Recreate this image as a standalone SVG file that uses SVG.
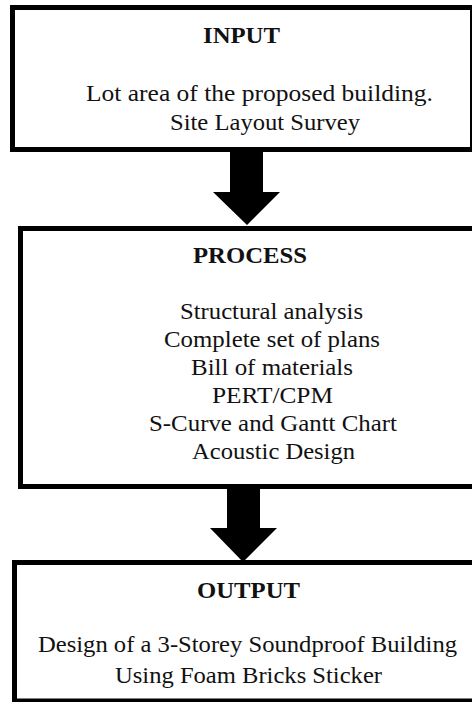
<svg xmlns="http://www.w3.org/2000/svg" width="472" height="702" viewBox="0 0 472 702">
<style>
.box{fill:#fff;stroke:#000;stroke-width:5}
.h{font-weight:bold;font-size:23px;fill:#111;text-anchor:middle}
.t{font-size:23px;fill:#111;text-anchor:middle}
.arrow{fill:#000}
</style>
<rect width="472" height="702" fill="#fff"/>
<g id="input" font-family="Liberation Serif, DejaVu Serif, serif">
<rect class="box" x="12.5" y="7.5" width="460" height="142"/>
<text class="h" x="241.5" y="43" textLength="77" lengthAdjust="spacingAndGlyphs">INPUT</text>
<text class="t" x="259.5" y="101" textLength="347" lengthAdjust="spacingAndGlyphs">Lot area of the proposed building.</text>
<text class="t" x="265" y="130" textLength="190" lengthAdjust="spacingAndGlyphs">Site Layout Survey</text>
</g>
<g id="process" font-family="Liberation Serif, DejaVu Serif, serif">
<rect class="box" x="20.5" y="228.5" width="460" height="258"/>
<text class="h" x="250" y="263" textLength="114" lengthAdjust="spacingAndGlyphs">PROCESS</text>
<text class="t" x="271.5" y="319" textLength="183" lengthAdjust="spacingAndGlyphs">Structural analysis</text>
<text class="t" x="272" y="347" textLength="216" lengthAdjust="spacingAndGlyphs">Complete set of plans</text>
<text class="t" x="272" y="375" textLength="162" lengthAdjust="spacingAndGlyphs">Bill of materials</text>
<text class="t" x="272.5" y="403" textLength="121" lengthAdjust="spacingAndGlyphs">PERT/CPM</text>
<text class="t" x="273" y="431" textLength="248" lengthAdjust="spacingAndGlyphs">S-Curve and Gantt Chart</text>
<text class="t" x="273.5" y="459" textLength="163" lengthAdjust="spacingAndGlyphs">Acoustic Design</text>
</g>
<g id="output" font-family="Liberation Serif, DejaVu Serif, serif">
<rect class="box" x="14.5" y="562.5" width="470" height="138.5"/>
<text class="h" x="248.5" y="598" textLength="103" lengthAdjust="spacingAndGlyphs">OUTPUT</text>
<text class="t" x="247.5" y="652" textLength="419" lengthAdjust="spacingAndGlyphs">Design of a 3-Storey Soundproof Building</text>
<text class="t" x="248.5" y="683" textLength="267" lengthAdjust="spacingAndGlyphs">Using Foam Bricks Sticker</text>
</g>
<g id="connectors">
<polygon class="arrow" points="230,150 263,150 263,192 280,192 247,225 213,192 230,192"/>
<polygon class="arrow" points="227,487 260,487 260,528 277,528 243,562 210,528 227,528"/>
</g>
</svg>
